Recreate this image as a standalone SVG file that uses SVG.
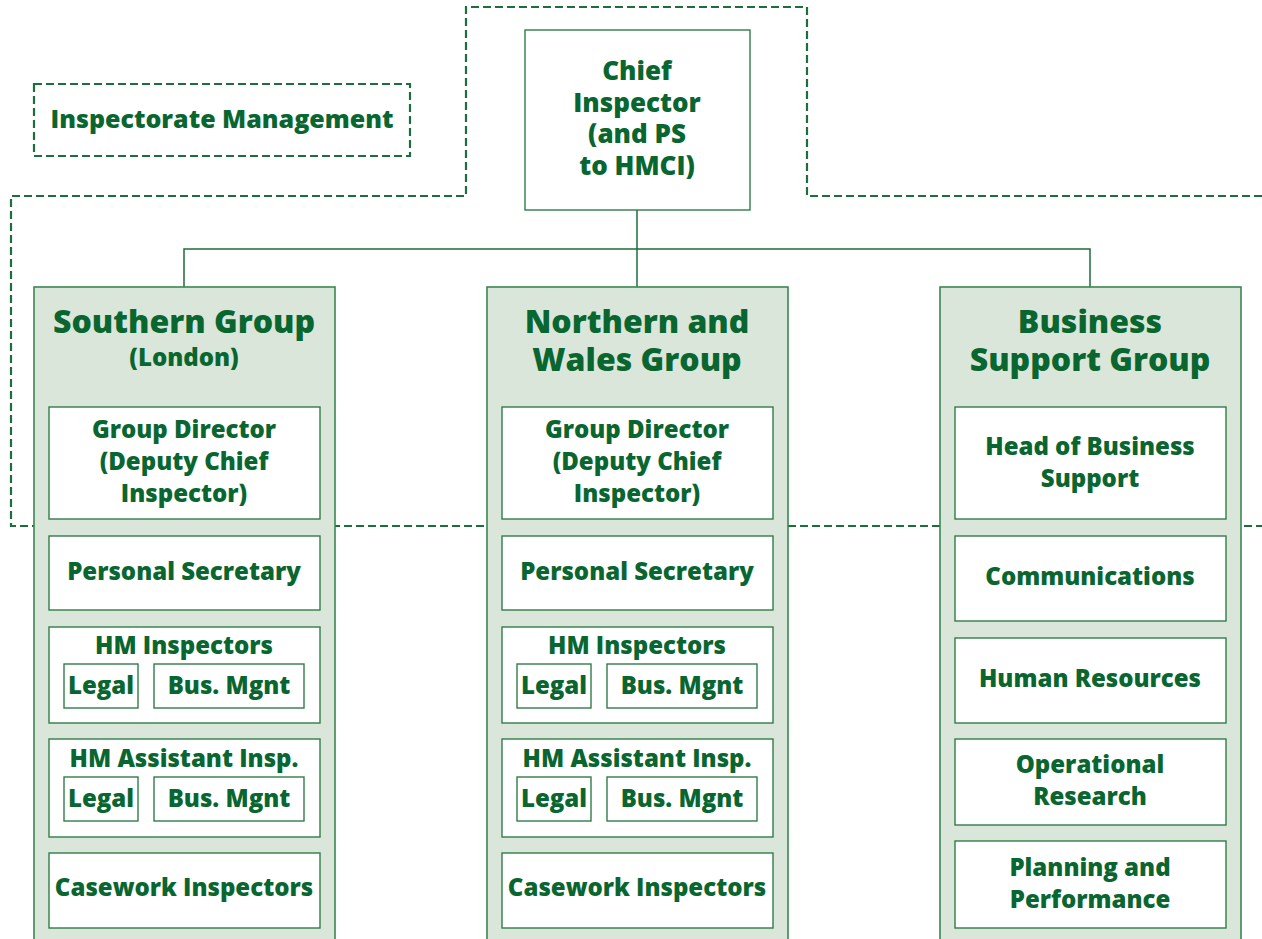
<svg xmlns="http://www.w3.org/2000/svg" width="1262" height="939" viewBox="0 0 1262 939">
  <style>
    .t { font-family: "Open Sans", "Liberation Sans", sans-serif; font-weight: 800; fill: #0a6630; text-anchor: middle; }
    .s24 { font-size: 24px; }
    .lon { font-size: 24px; }
    .mg { font-size: 25px; }
    .ch { font-size: 26px; }
    .s30 { font-size: 32px; }
    .box { fill: #ffffff; stroke: #2f7d48; stroke-width: 1.4; }
    .panel { fill: #dbe6da; stroke: #3a8752; stroke-width: 1.6; }
    .dash { fill: none; stroke: #1c6e3a; stroke-width: 2.2; stroke-dasharray: 8 4; }
    .conn { fill: none; stroke: #1c6e3a; stroke-width: 1.5; }
  </style>

  <!-- management boundary (dashed) -->
  <g id="management-boundary">
    <path class="dash" d="M1262,196 H807 V7 H466 V196 H11 V526 H1262"/>
  </g>
  <g id="inspectorate-management">
    <rect class="dash" x="34" y="84" width="376" height="72"/>
    <text class="t mg" x="222" y="128">Inspectorate Management</text>
  </g>

  <!-- connectors -->
  <g id="connectors">
    <path class="conn" d="M637,210 V287"/>
    <path class="conn" d="M184,287 V249 H1090 V287"/>
  </g>

  <!-- chief inspector -->
  <g id="chief-inspector">
    <rect class="box" x="525" y="30" width="225" height="180"/>
    <text class="t ch" x="637" y="80">Chief</text>
    <text class="t ch" x="637" y="112">Inspector</text>
    <text class="t ch" x="637" y="143">(and PS</text>
    <text class="t ch" x="637" y="175">to HMCI)</text>
  </g>

  <!-- Southern Group -->
  <g id="southern-group">
    <rect class="panel" x="34" y="287" width="301" height="670"/>
    <text class="t s30" x="184" y="333">Southern Group</text>
    <text class="t lon" x="184" y="366">(London)</text>
  </g>
  <g id="southern-director">
    <rect class="box" x="49" y="407" width="271" height="112"/>
    <text class="t s24" x="184" y="438">Group Director</text>
    <text class="t s24" x="184" y="470">(Deputy Chief</text>
    <text class="t s24" x="184" y="502">Inspector)</text>
  </g>
  <g id="southern-secretary">
    <rect class="box" x="49" y="536" width="271" height="74"/>
    <text class="t s24" x="184" y="580">Personal Secretary</text>
  </g>
  <g id="southern-hmi">
    <rect class="box" x="49" y="627" width="271" height="96"/>
    <text class="t s24" x="184" y="654">HM Inspectors</text>
    <rect class="box" x="64" y="664" width="74" height="44"/>
    <text class="t s24" x="101" y="694">Legal</text>
    <rect class="box" x="154" y="664" width="150" height="44"/>
    <text class="t s24" x="229" y="694">Bus. Mgnt</text>
  </g>
  <g id="southern-assistant">
    <rect class="box" x="49" y="739" width="271" height="98"/>
    <text class="t s24" x="184" y="767">HM Assistant Insp.</text>
    <rect class="box" x="64" y="777" width="74" height="44"/>
    <text class="t s24" x="101" y="807">Legal</text>
    <rect class="box" x="154" y="777" width="150" height="44"/>
    <text class="t s24" x="229" y="807">Bus. Mgnt</text>
  </g>
  <g id="southern-casework">
    <rect class="box" x="49" y="853" width="271" height="75"/>
    <text class="t s24" x="184" y="896">Casework Inspectors</text>
  </g>

  <!-- Northern and Wales Group -->
  <g id="northern-group">
    <rect class="panel" x="487" y="287" width="301" height="670"/>
    <text class="t s30" x="637" y="333">Northern and</text>
    <text class="t s30" x="637" y="371">Wales Group</text>
  </g>
  <g id="northern-director">
    <rect class="box" x="502" y="407" width="271" height="112"/>
    <text class="t s24" x="637" y="438">Group Director</text>
    <text class="t s24" x="637" y="470">(Deputy Chief</text>
    <text class="t s24" x="637" y="502">Inspector)</text>
  </g>
  <g id="northern-secretary">
    <rect class="box" x="502" y="536" width="271" height="74"/>
    <text class="t s24" x="637" y="580">Personal Secretary</text>
  </g>
  <g id="northern-hmi">
    <rect class="box" x="502" y="627" width="271" height="96"/>
    <text class="t s24" x="637" y="654">HM Inspectors</text>
    <rect class="box" x="517" y="664" width="74" height="44"/>
    <text class="t s24" x="554" y="694">Legal</text>
    <rect class="box" x="607" y="664" width="150" height="44"/>
    <text class="t s24" x="682" y="694">Bus. Mgnt</text>
  </g>
  <g id="northern-assistant">
    <rect class="box" x="502" y="739" width="271" height="98"/>
    <text class="t s24" x="637" y="767">HM Assistant Insp.</text>
    <rect class="box" x="517" y="777" width="74" height="44"/>
    <text class="t s24" x="554" y="807">Legal</text>
    <rect class="box" x="607" y="777" width="150" height="44"/>
    <text class="t s24" x="682" y="807">Bus. Mgnt</text>
  </g>
  <g id="northern-casework">
    <rect class="box" x="502" y="853" width="271" height="75"/>
    <text class="t s24" x="637" y="896">Casework Inspectors</text>
  </g>

  <!-- Business Support Group -->
  <g id="business-group">
    <rect class="panel" x="940" y="287" width="301" height="670"/>
    <text class="t s30" x="1090" y="333">Business</text>
    <text class="t s30" x="1090" y="371">Support Group</text>
  </g>
  <g id="business-head">
    <rect class="box" x="955" y="407" width="271" height="112"/>
    <text class="t s24" x="1090" y="455">Head of Business</text>
    <text class="t s24" x="1090" y="487">Support</text>
  </g>
  <g id="business-communications">
    <rect class="box" x="955" y="536" width="271" height="85"/>
    <text class="t s24" x="1090" y="585">Communications</text>
  </g>
  <g id="business-hr">
    <rect class="box" x="955" y="638" width="271" height="85"/>
    <text class="t s24" x="1090" y="687">Human Resources</text>
  </g>
  <g id="business-research">
    <rect class="box" x="955" y="739" width="271" height="86"/>
    <text class="t s24" x="1090" y="773">Operational</text>
    <text class="t s24" x="1090" y="805">Research</text>
  </g>
  <g id="business-planning">
    <rect class="box" x="955" y="841" width="271" height="87"/>
    <text class="t s24" x="1090" y="876">Planning and</text>
    <text class="t s24" x="1090" y="908">Performance</text>
  </g>
</svg>
